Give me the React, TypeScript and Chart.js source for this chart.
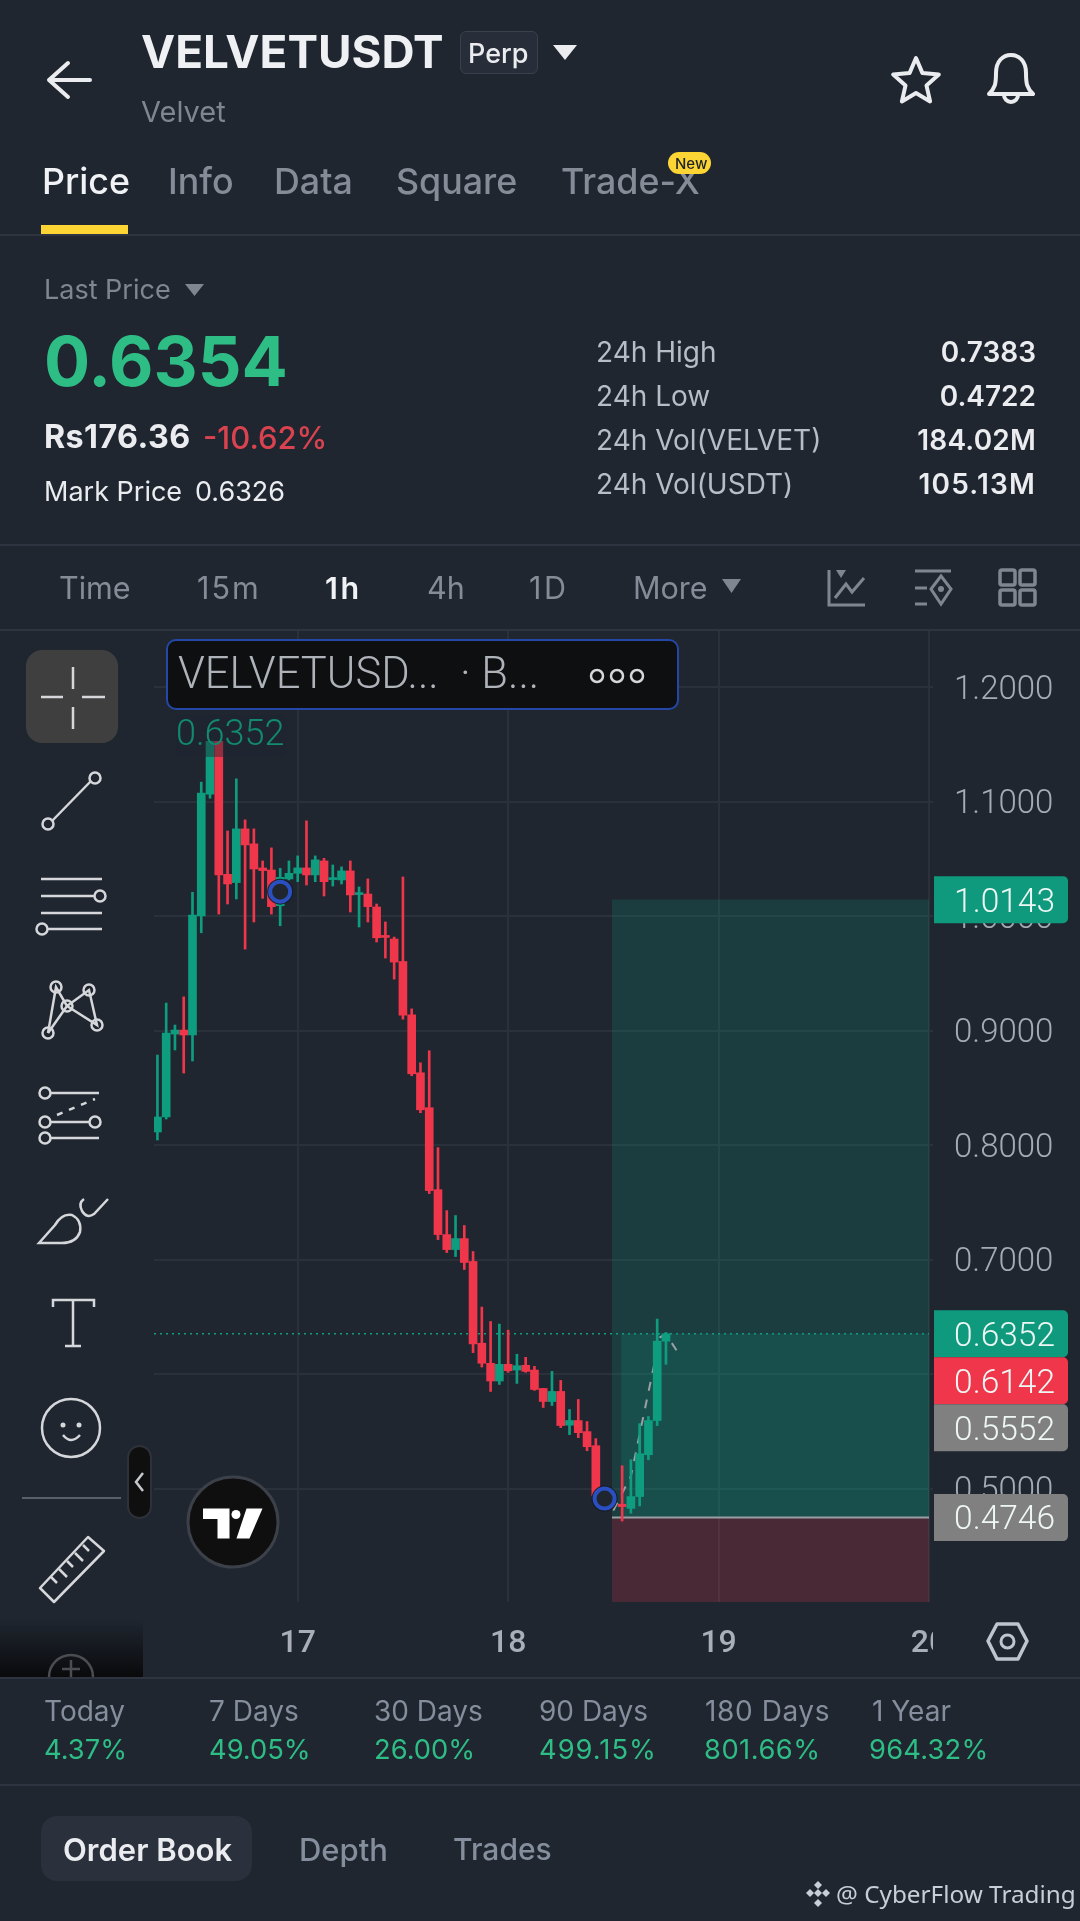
import React, { useEffect, useRef } from "react";
import { Chart, registerables } from "chart.js";

Chart.register(...registerables);

const hours = [
  -16, -15, -14, -13, -12, -11, -10, -9, -8, -7, -6, -5, -4, -3, -2, -1, 0, 1, 2, 3, 4, 5, 6, 7, 8, 9, 10, 11, 12, 13,
  14, 15, 16, 17, 18, 19, 20, 21, 22, 23, 24, 25, 26, 27, 28, 29, 30, 31, 32, 33, 34, 35, 37, 38, 39, 40, 41, 42,
];
const opens = [
  0.8114, 0.8245, 0.8969, 0.9004, 0.8961, 1.0, 1.1064, 1.1525, 1.0364, 1.0292, 1.0761, 1.063, 1.042, 1.0402, 1.009,
  1.0324, 1.0373, 1.042, 1.0359, 1.0481, 1.0318, 1.0315, 1.0394, 1.0187, 1.0192, 1.0079, 0.9825, 0.9799, 0.9603,
  0.9137, 0.8631, 0.8326, 0.761, 0.7218, 0.7087, 0.7183, 0.6983, 0.6269, 0.6094, 0.5939, 0.6085, 0.6035, 0.6076,
  0.6035, 0.5874, 0.576, 0.5848, 0.5553, 0.5594, 0.5497, 0.5374, 0.493, 0.4863, 0.4827, 0.493, 0.5295, 0.5594, 0.6287,
];
const closes = [
  0.8245, 0.8978, 0.9004, 0.8961, 1.0009, 1.1073, 1.1525, 1.0359, 1.028, 1.0761, 1.0621, 1.0411, 1.0397, 1.0082,
  1.0338, 1.0373, 1.042, 1.0359, 1.049, 1.03, 1.0329, 1.0394, 1.0184, 1.0198, 1.0082, 0.981, 0.9813, 0.9598, 0.9134,
  0.8622, 0.8308, 0.7602, 0.7218, 0.7087, 0.7183, 0.6974, 0.6263, 0.6094, 0.5939, 0.6085, 0.6029, 0.6073, 0.6023,
  0.5865, 0.576, 0.5848, 0.555, 0.5594, 0.5488, 0.5365, 0.4935, 0.4912, 0.4842, 0.493, 0.5304, 0.5594, 0.6287, 0.6352,
];
const highs = [
  0.8786, 0.924, 0.9048, 0.9294, 1.0207, 1.1169, 1.1525, 1.1525, 1.0743, 1.1198, 1.084, 1.0761, 1.0481, 1.0595, 1.0417,
  1.0481, 1.0525, 1.0831, 1.0525, 1.0504, 1.0446, 1.0429, 1.0481, 1.0254, 1.0324, 1.0105, 0.9948, 0.9816, 1.0341,
  0.9189, 0.8718, 0.8823, 0.7977, 0.7427, 0.7384, 0.7297, 0.707, 0.6585, 0.6459, 0.6436, 0.6383, 0.6173, 0.6146,
  0.6067, 0.5874, 0.6023, 0.5944, 0.569, 0.5778, 0.5585, 0.5436, 0.493, 0.5199, 0.5251, 0.5567, 0.5629, 0.648, 0.6363,
];
const lows = [
  0.8044, 0.8227, 0.883, 0.8629, 0.8734, 0.9854, 1.1029, 1.0017, 1.0105, 1.0149, 0.9711, 0.9948, 1.0155, 1.0017, 0.9915,
  1.0315, 1.03, 1.0271, 1.03, 1.0175, 1.0262, 1.028, 1.0035, 0.9904, 0.9948, 0.9773, 0.9633, 0.9449, 0.9099, 0.8605,
  0.8282, 0.7576, 0.7174, 0.7061, 0.7026, 0.6913, 0.6187, 0.6061, 0.5848, 0.5909, 0.6015, 0.5918, 0.6015, 0.5857,
  0.5708, 0.5725, 0.5532, 0.5471, 0.5444, 0.533, 0.4905, 0.49, 0.4716, 0.4784, 0.4848, 0.5251, 0.555, 0.6085,
];

const priceTicks = [0.5, 0.6, 0.7, 0.8, 0.9, 1.0, 1.1, 1.2];
const dayHours = [0, 24, 48, 72];
const dayLabels = ["17", "18", "19", "20"];

const ghostHours = [36, 38, 41.3, 42, 43.2];
const ghostPrices = [0.4807, 0.5108, 0.6319, 0.6348, 0.6208];
const markerHours = [-2, 35];
const markerPrices = [1.0213, 0.4912];

const lastPrice = 0.6352;
const takeProfit = 1.0143;
const entryPrice = 0.4746;
const zoneStartHour = 35.84;
const fillStartHour = 36.9;
const tagValues = [1.0143, 0.6352, 0.6142, 0.5552, 0.4746];
const tagColors = ["#0f9a7e", "#0f9a7e", "#f0364a", "#808080", "#808080"];

const HOUR_MIN = -16.39;
const HOUR_MAX = 72;
const PRICE_MIN = 0.4009;
const PRICE_MAX = 1.2498;

const GREEN = "#0f9d80";
const RED = "#f0364a";
const BG = "#1f2630";
const UP = "#2ebd85";

const stats = [
  { label: "24h High", value: "0.7383", y: 352, ls: 0 },
  { label: "24h Low", value: "0.4722", y: 396, ls: 0 },
  { label: "24h Vol(VELVET)", value: "184.02M", y: 440, ls: 0.2 },
  { label: "24h Vol(USDT)", value: "105.13M", y: 484, ls: 1.2 },
];
const tabs = [
  { t: "Price", x: 42, c: "#f0f2f5" },
  { t: "Info", x: 168, c: "#858c98" },
  { t: "Data", x: 274, c: "#858c98" },
  { t: "Square", x: 396, c: "#858c98" },
  { t: "Trade-X", x: 561, c: "#858c98" },
];
const frames = [
  { t: "Time", x: 59, c: "#858c98", w: 400, ls: 0 },
  { t: "15m", x: 197, c: "#858c98", w: 400, ls: 2 },
  { t: "1h", x: 325, c: "#f0f2f5", w: 600, ls: 2.5 },
  { t: "4h", x: 427, c: "#858c98", w: 400, ls: 0 },
  { t: "1D", x: 529, c: "#858c98", w: 400, ls: 2.5 },
  { t: "More", x: 633, c: "#858c98", w: 400, ls: 0 },
];
const perf = [
  { l: "Today", v: "4.37%", x: 44, vx: 44, ls: 0, lls: 0 },
  { l: "7 Days", v: "49.05%", x: 209, vx: 209, ls: 0, lls: 0 },
  { l: "30 Days", v: "26.00%", x: 374, vx: 374, ls: 0, lls: 0 },
  { l: "90 Days", v: "499.15%", x: 539, vx: 539, ls: 1, lls: 0 },
  { l: "180 Days", v: "801.66%", x: 705, vx: 704, ls: 0.5, lls: 0.6 },
  { l: "1 Year", v: "964.32%", x: 872, vx: 869, ls: 0.2, lls: 0 },
];

function T(p: { x: number; y: number; s: number; c: string; w?: number; r?: boolean; f?: string; ls?: number; children: any }) {
  const pos: any = p.r ? { right: 1080 - p.x } : { left: p.x };
  return (
    <div
      style={{
        position: "absolute",
        ...pos,
        top: p.y,
        transform: "translateY(-50%)",
        whiteSpace: "nowrap",
        lineHeight: 1,
        fontFamily: p.f || "Inter, sans-serif",
        fontSize: p.s,
        fontWeight: p.w || 400,
        letterSpacing: p.ls || 0,
        color: p.c,
      }}
    >
      {p.children}
    </div>
  );
}

const zonesPlugin = {
  id: "zones",
  beforeDatasetsDraw(chart: any) {
    const { ctx, scales, chartArea } = chart;
    const x = scales.x;
    const y = scales.y;
    const left = x.getPixelForValue(zoneStartHour);
    const fillLeft = x.getPixelForValue(fillStartHour);
    const right = chartArea.right;
    const yTop = y.getPixelForValue(takeProfit);
    const yEntry = y.getPixelForValue(entryPrice);
    const yLast = y.getPixelForValue(lastPrice);
    ctx.save();
    ctx.fillStyle = "rgba(15,157,128,0.2)";
    ctx.fillRect(left, yTop, right - left, yEntry - yTop);
    ctx.fillRect(fillLeft, yLast, right - fillLeft, yEntry - yLast);
    ctx.fillStyle = "rgba(240,54,74,0.2)";
    ctx.fillRect(left, yEntry, right - left, chartArea.bottom - yEntry);
    ctx.strokeStyle = "#9a9fa3";
    ctx.lineWidth = 2;
    ctx.beginPath();
    ctx.moveTo(left, yEntry);
    ctx.lineTo(right, yEntry);
    ctx.stroke();
    ctx.restore();
  },
};

const tagsPlugin = {
  id: "tags",
  afterDraw(chart: any) {
    const { ctx, scales } = chart;
    const left = 934;
    const width = 134;
    const h = 47;
    let prevBottom = -100;
    ctx.save();
    tagValues.forEach((v, i) => {
      const cy = Math.max(scales.y.getPixelForValue(v), prevBottom + h / 2);
      const top = cy - h / 2;
      ctx.fillStyle = tagColors[i];
      ctx.beginPath();
      ctx.roundRect(left, top, width, h, [0, 5, 5, 0]);
      ctx.fill();
      ctx.fillStyle = "#eef7f4";
      ctx.font = "300 33.5px Roboto";
      ctx.textAlign = "right";
      ctx.textBaseline = "middle";
      ctx.fillText(v.toFixed(4), 1055, cy + 3.5);
      prevBottom = top + h;
    });
    ctx.restore();
  },
};

function starPoints(cx: number, cy: number, R: number, r: number) {
  const pts: string[] = [];
  for (let i = 0; i < 10; i++) {
    const a = -Math.PI / 2 + (i * Math.PI) / 5;
    const rad = i % 2 === 0 ? R : r;
    pts.push(`${cx + rad * Math.cos(a)},${cy + rad * Math.sin(a)}`);
  }
  return pts.join(" ");
}

function Icons() {
  const s = "#d5d7da";
  const g = "#7f8690";
  const circle = (cx: number, cy: number) => <circle cx={cx} cy={cy} r={5.5} fill="none" stroke={s} strokeWidth={2.5} />;
  return (
    <svg
      width={1080}
      height={1921}
      viewBox="0 0 1080 1921"
      style={{ position: "absolute", left: 0, top: 0, zIndex: 3, pointerEvents: "none" }}
    >
      <defs>
        <linearGradient id="fade" x1="0" y1="0" x2="0" y2="1">
          <stop offset="0" stopColor="#0a0a0c" stopOpacity="0" />
          <stop offset="1" stopColor="#0a0a0c" stopOpacity="1" />
        </linearGradient>
      </defs>
      {/* header */}
      <path d="M90 80H49M68 63L49 80L68 97" fill="none" stroke="#eaecef" strokeWidth={4} strokeLinejoin="round" strokeLinecap="round" />
      <polygon points="553,45 577,45 565,60" fill="#eaecef" />
      <polygon points={starPoints(916, 82, 24, 11)} fill="none" stroke="#eaecef" strokeWidth={4} strokeLinejoin="round" />
      <path d="M989 94c6-6 7-10 7-21c0-12 7-18 15-18s15 6 15 18c0 11 1 15 7 21z" fill="none" stroke="#eaecef" strokeWidth={4} strokeLinejoin="round" />
      <path d="M1004 95a7 7 0 0 0 14 0" fill="none" stroke="#eaecef" strokeWidth={4} />
      <polygon points="185,284 204,284 194.5,296" fill="#7f8690" />
      <polygon points="722,579 741,579 731.5,593" fill="#7f8690" />
      {/* timeframe icons */}
      <path d="M829 570V605H865M835 598L846 584L852 592L864 578" fill="none" stroke={g} strokeWidth={3} />
      <polygon points="836,570 846,570 841,578" fill={g} />
      <path d="M915 571H951M915 588H927M915 604H927" fill="none" stroke={g} strokeWidth={3} />
      <polygon points="941,576 951,589 941,604 931,589" fill="none" stroke={g} strokeWidth={3} />
      <circle cx={941} cy={589} r={3} fill={g} />
      {[1000, 1020].map((x) =>
        [570, 590].map((y) => (
          <rect key={`${x}${y}`} x={x} y={y} width={15} height={15} rx={2} fill="none" stroke={g} strokeWidth={3.5} />
        ))
      )}
      {/* toolbar */}
      <rect x={26} y={650} width={92} height={93} rx={16} fill="#3f3f3f" />
      <path d="M41 697H63M82 697H105M73 667V689M73 707V729" stroke={s} strokeWidth={2.5} fill="none" />
      <path d="M52 821L91 781" stroke={s} strokeWidth={2.5} />
      {circle(48, 824)}
      {circle(95, 778)}
      <path d="M41 879H102M41 896H94M41 913H102M48 929H102" stroke={s} strokeWidth={2.5} fill="none" />
      {circle(100, 896)}
      {circle(42, 929)}
      <path d="M48 1033L56 987L67 1006L48 1033M67 1006L97 1025L89 990L67 1006" stroke={s} strokeWidth={2.5} fill="none" />
      {circle(56, 987)}
      {circle(89, 990)}
      {circle(67, 1006)}
      {circle(48, 1033)}
      {circle(97, 1025)}
      <path d="M50 1093H99M50 1122H90M50 1138H99" stroke={s} strokeWidth={2.5} fill="none" />
      <path d="M57 1115L95 1099" stroke={s} strokeWidth={2.5} strokeDasharray="6 7" fill="none" />
      {circle(45, 1093)}
      {circle(45, 1122)}
      {circle(95, 1122)}
      {circle(45, 1138)}
      <path d="M39 1243L55 1225Q62 1213 72 1215Q82 1220 80 1232Q76 1243 62 1243Z" stroke={s} strokeWidth={2.5} fill="none" />
      <path d="M84 1199Q78 1203 82 1211Q87 1219 94 1214L108 1199" stroke={s} strokeWidth={2.5} fill="none" />
      <path d="M53 1307V1300H94V1307M73 1300V1346M65 1346H81" stroke={s} strokeWidth={2.5} fill="none" />
      <circle cx={71} cy={1428} r={29} stroke={s} strokeWidth={2.5} fill="none" />
      <circle cx={63} cy={1425} r={2.5} fill={s} />
      <circle cx={79} cy={1425} r={2.5} fill={s} />
      <path d="M63 1435Q71 1445 80 1435" stroke={s} strokeWidth={2.5} fill="none" />
      <path d="M22 1498H121" stroke="#5b6068" strokeWidth={2} />
      <polygon points="40,1588 88,1537 104,1551 54,1602" stroke={s} strokeWidth={2.5} fill="none" strokeLinejoin="round" />
      <path d="M51 1577l6 6M59 1569l8 8M67 1561l6 6M75 1553l8 8M83 1545l6 6" stroke={s} strokeWidth={2.5} fill="none" />
      <rect x={0} y={1620} width={143} height={57} fill="url(#fade)" />
      <path d="M49 1677a22 22 0 0 1 44 0M71 1660V1677M62 1669H80" stroke="#4a4d52" strokeWidth={2.5} fill="none" />
      {/* collapse pill */}
      <rect x={128} y={1446} width={23} height={72} rx={11.5} fill="#0f0f10" stroke="#2e3238" strokeWidth={2} />
      <path d="M143 1473L136 1482L143 1491" stroke="#c6c8cc" strokeWidth={2.5} fill="none" />
      {/* TV logo */}
      <circle cx={233} cy={1522} r={45} fill="#0f0f10" stroke="#3c4048" strokeWidth={3} />
      <path d="M203 1508.5H229.5V1538.5H217.5V1519H203Z" fill="#fff" />
      <circle cx={236} cy={1514.5} r={4.5} fill="#fff" />
      <path d="M246.5 1508.5H262.5L249.5 1538.5H236.5Z" fill="#fff" />
      {/* legend dots */}
      <circle cx={597} cy={676} r={6} fill="none" stroke="#d5d7da" strokeWidth={2.5} />
      <circle cx={617} cy={676} r={6} fill="none" stroke="#d5d7da" strokeWidth={2.5} />
      <circle cx={637} cy={676} r={6} fill="none" stroke="#d5d7da" strokeWidth={2.5} />
      {/* settings */}
      <polygon points="988,1641 997,1624 1018,1624 1027,1641 1018,1659 997,1659" fill="none" stroke="#c0c4cc" strokeWidth={3.5} strokeLinejoin="round" />
      <circle cx={1007.5} cy={1641.5} r={6.5} fill="none" stroke="#c0c4cc" strokeWidth={3} />
      {/* watermark */}
      {[
        [818, 1885],
        [810, 1893],
        [818, 1893],
        [826, 1893],
        [818, 1903],
      ].map(([x, y], i) => (
        <polygon key={i} points={`${x},${y - 4} ${x + 4},${y} ${x},${y + 4} ${x - 4},${y}`} fill="#c9ced6" />
      ))}
    </svg>
  );
}

export default function App() {
  const ref = useRef<HTMLCanvasElement | null>(null);

  useEffect(() => {
    document.body.style.margin = "0";
    document.body.style.background = BG;
    const colors = hours.map((_, i) => (closes[i] >= opens[i] ? GREEN : RED));
    const chart = new Chart(ref.current as HTMLCanvasElement, {
      type: "bar",
      data: {
        datasets: [
          {
            type: "line",
            data: markerHours.map((x, i) => ({ x, y: markerPrices[i] })),
            showLine: false,
            pointRadius: 10,
            pointBackgroundColor: BG,
            pointBorderColor: "#2a4fc0",
            pointBorderWidth: 4,
            order: 0,
          },
          {
            type: "line",
            data: markerHours.map((x, i) => ({ x, y: markerPrices[i] })),
            showLine: false,
            pointRadius: 13,
            pointBackgroundColor: "rgba(20,25,32,0.9)",
            pointBorderWidth: 0,
            order: 1,
          },
          {
            data: hours.map((x, i) => ({ x, y: [opens[i], closes[i]] })),
            backgroundColor: colors,
            barThickness: 8,
            minBarLength: 2,
            grouped: false,
            order: 2,
          },
          {
            data: hours.map((x, i) => ({ x, y: [lows[i], highs[i]] })),
            backgroundColor: colors,
            barThickness: 2,
            grouped: false,
            order: 3,
          },
          {
            type: "line",
            data: ghostHours.map((x, i) => ({ x, y: ghostPrices[i] })),
            borderColor: "#9aa0a6",
            borderWidth: 2,
            borderDash: [9, 9],
            pointRadius: 0,
            order: 4,
          },
          {
            type: "line",
            data: [
              { x: HOUR_MIN, y: lastPrice },
              { x: HOUR_MAX, y: lastPrice },
            ],
            borderColor: GREEN,
            borderWidth: 1.5,
            borderDash: [2, 4],
            pointRadius: 0,
            order: 5,
          },
        ] as any,
      },
      options: {
        animation: false,
        responsive: false,
        devicePixelRatio: 1,
        layout: { autoPadding: false, padding: { left: 154, right: 0, top: 0, bottom: 0 } },
        plugins: { legend: { display: false }, tooltip: { enabled: false } },
        scales: {
          x: {
            type: "linear",
            min: HOUR_MIN,
            max: HOUR_MAX,
            offset: false,
            grid: { offset: false, color: "#2a313b", lineWidth: 2, drawTicks: false },
            border: { display: false },
            afterBuildTicks: (s: any) => {
              s.ticks = dayHours.map((value) => ({ value }));
            },
            afterFit: (s: any) => {
              s.height = 75;
              s.paddingLeft = 0;
              s.paddingRight = 0;
            },
            ticks: {
              autoSkip: false,
              maxRotation: 0,
              padding: 23,
              color: "#a9aeb8",
              font: { family: "Roboto", size: 32, weight: "500" },
              callback: (v: any) => dayLabels[dayHours.indexOf(Number(v))],
            },
          },
          y: {
            position: "right",
            min: PRICE_MIN,
            max: PRICE_MAX,
            grid: { color: "#2a313b", lineWidth: 2, tickLength: 4 },
            border: { display: false },
            afterBuildTicks: (s: any) => {
              s.ticks = priceTicks.map((value) => ({ value }));
            },
            afterFit: (s: any) => {
              s.width = 151;
              s.paddingTop = 0;
              s.paddingBottom = 0;
            },
            ticks: {
              autoSkip: false,
              padding: 21,
              color: "#a6abb3",
              font: { family: "Roboto", size: 33, weight: "300", lineHeight: 0.21 },
              // an empty first line nudges the text down so the digits centre on the grid line
              callback: (v: any) => ["", Number(v).toFixed(4)],
            },
          },
        },
      } as any,
      plugins: [zonesPlugin, tagsPlugin],
    } as any);
    return () => chart.destroy();
  }, []);

  return (
    <div style={{ position: "absolute", left: 0, top: 0, width: 1080, height: 1921, background: BG, overflow: "hidden" }}>
      <canvas ref={ref} width={1080} height={1047} style={{ position: "absolute", left: 0, top: 630, width: 1080, height: 1047, zIndex: 1 }} />
      <div style={{ position: "absolute", left: 933, top: 1604, width: 147, height: 72, background: BG, zIndex: 2 }} />

      <div style={{ position: "absolute", inset: 0, zIndex: 2 }}>
        <T x={141} y={52} s={45.8} c="#eef0f3" w={700}>VELVETUSDT</T>
        <div style={{ position: "absolute", left: 460, top: 31, width: 78, height: 43, boxSizing: "border-box", background: "#282e39", border: "1.5px solid #3a404c", borderRadius: 6 }} />
        <T x={468} y={53} s={27} c="#eaecef" w={500}>Perp</T>
        <T x={141} y={111} s={29} c="#7f8690">Velvet</T>
        {tabs.map((t) => (
          <T key={t.t} x={t.x} y={182} s={35.8} c={t.c} w={500}>{t.t}</T>
        ))}
        <div style={{ position: "absolute", left: 668, top: 152, width: 43, height: 22, borderRadius: 11, background: "#fcd535" }} />
        <T x={675} y={163} s={15} c="#1e2329" w={500}>New</T>
        <div style={{ position: "absolute", left: 41, top: 225, width: 87, height: 9, background: "#fcd535" }} />
        <div style={{ position: "absolute", left: 0, top: 234, width: 1080, height: 1.5, background: "#2e3540" }} />

        <T x={44} y={289} s={27} c="#7f8690">Last Price</T>
        <T x={44} y={362} s={68.5} c={UP} w={700}>0.6354</T>
        <T x={44} y={437} s={32.3} c="#eaecef" w={700} ls={0.4}>Rs176.36</T>
        <T x={203} y={437} s={31} c="#d9434f" w={500}>-10.62%</T>
        <T x={44} y={491} s={27} c="#eaecef">Mark Price</T>
        <T x={195} y={491} s={27} c="#eaecef">0.6326</T>
        {stats.map((r) => (
          <React.Fragment key={r.label}>
            <T x={596} y={r.y} s={28} c="#b7bdc6">{r.label}</T>
            <T x={1036} y={r.y} s={28} c="#eaecef" w={600} r ls={r.ls}>{r.value}</T>
          </React.Fragment>
        ))}
        <div style={{ position: "absolute", left: 0, top: 544, width: 1080, height: 1.5, background: "#2e3540" }} />

        {frames.map((t) => (
          <T key={t.t} x={t.x} y={588} s={30.5} c={t.c} w={t.w} ls={t.ls}>{t.t}</T>
        ))}
        <div style={{ position: "absolute", left: 0, top: 629, width: 1080, height: 1.5, background: "#2e3540" }} />

        <div style={{ position: "absolute", left: 165.5, top: 639, width: 513, height: 71, boxSizing: "border-box", background: "#0e0f11", border: "2px solid #2447a8", borderRadius: 10 }} />
        <T x={178} y={674} s={43.5} c="#aeb3ba" w={300} f="Roboto">VELVETUSD...</T>
        <T x={460} y={674} s={43.5} c="#aeb3ba" w={300} f="Roboto">· B...</T>
        <div style={{ position: "absolute", left: 176, top: 715, width: 110, height: 42, background: "rgba(31,38,48,0.45)" }} />
        <T x={176} y={733} s={36} c="#138a70" w={300} f="Roboto">0.6352</T>

        <div style={{ position: "absolute", left: 0, top: 1677, width: 1080, height: 1.5, background: "#2e3540" }} />
        {perf.map((p) => (
          <React.Fragment key={p.l}>
            <T x={p.x} y={1711} s={28} c="#848e9c" ls={p.lls}>{p.l}</T>
            <T x={p.vx} y={1750} s={27.3} c={UP} ls={p.ls}>{p.v}</T>
          </React.Fragment>
        ))}
        <div style={{ position: "absolute", left: 0, top: 1784, width: 1080, height: 1.5, background: "#2e3540" }} />

        <div style={{ position: "absolute", left: 41, top: 1816, width: 211, height: 65, borderRadius: 16, background: "#2a303c" }} />
        <T x={63} y={1849} s={31} c="#eaecef" w={600}>Order Book</T>
        <T x={299} y={1849} s={31} c="#848e9c" w={500}>Depth</T>
        <T x={453} y={1849} s={30} c="#848e9c" w={500}>Trades</T>
        <T x={836} y={1894} s={24.3} c="#c9ced6" f="'Noto Sans'">@ CyberFlow Trading</T>
      </div>
      <Icons />
    </div>
  );
}
